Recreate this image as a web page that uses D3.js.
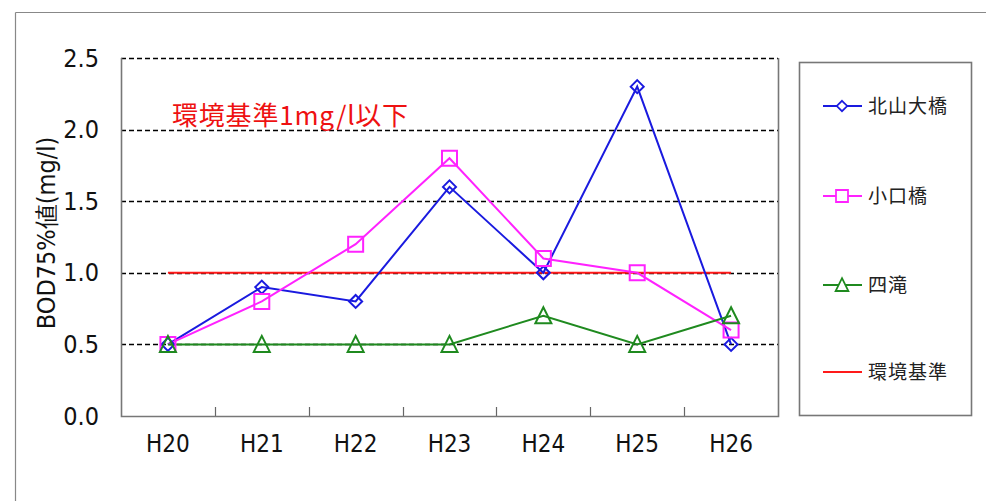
<!DOCTYPE html>
<html><head><meta charset="utf-8">
<script src="https://cdn.jsdelivr.net/npm/d3@7"></script>
<style>body{margin:0;background:#fff;overflow:hidden}</style>
</head><body><svg id="c" width="986" height="501"></svg>
<script>
const categories = ["H20","H21","H22","H23","H24","H25","H26"];
const kitayama = [0.5,0.9,0.8,1.6,1.0,2.3,0.5];
const koguchi  = [0.5,0.8,1.2,1.8,1.1,1.0,0.6];
const shitaki  = [0.5,0.5,0.5,0.5,0.7,0.5,0.7];
const standard = [1.0,1.0,1.0,1.0,1.0,1.0,1.0];
const yTicks = [0.0,0.5,1.0,1.5,2.0,2.5];
const seriesNames = ["北山大橋","小口橋","四滝","環境基準"];
const yTitle = "BOD75%値(mg/l)";
const annotation = "環境基準1mg/l以下";

const numFont = "'Liberation Sans Narrow','DejaVu Sans Condensed','Liberation Sans',Arial,sans-serif";
const cjkFont = "'Noto Sans CJK JP','Noto Sans',sans-serif";

const svg = d3.select("#c");
const L = 121, R = 778, T = 58, B = 416;
const x = d3.scaleBand().domain(categories).range([L, R]);
const y = d3.scaleLinear().domain([0, 2.5]).range([B, T]);

// outer frame
svg.append("line").attr("x1",15.5).attr("x2",986).attr("y1",12.5).attr("y2",12.5).attr("stroke","#888").attr("stroke-width",1.2);
svg.append("line").attr("x1",15.5).attr("x2",15.5).attr("y1",12.5).attr("y2",501).attr("stroke","#888").attr("stroke-width",1.2);

// gridlines
svg.append("g").selectAll("line").data(yTicks.filter(d=>d>0)).join("line")
  .attr("x1",L).attr("x2",R).attr("y1",d=>Math.round(y(d))+0.5).attr("y2",d=>Math.round(y(d))+0.5)
  .attr("stroke","#000").attr("stroke-width",1.3).attr("stroke-dasharray","5,3");

// y axis
const yAxis = d3.axisLeft(y).tickValues(yTicks).tickFormat(d3.format(".1f")).tickSize(0).tickPadding(22);
const gy = svg.append("g").attr("transform",`translate(${L},0)`).call(yAxis);
gy.select(".domain").remove();
gy.selectAll("text").attr("font-family",numFont).attr("font-size",25).attr("fill","#111");

// x axis
const xAxis = d3.axisBottom(x).tickSize(0).tickPadding(19);
const gx = svg.append("g").attr("transform",`translate(0,${B})`).call(xAxis);
gx.select(".domain").remove();
gx.selectAll("text").attr("font-family",numFont).attr("font-size",24).attr("fill","#111").attr("dy","0.71em");
// category boundary ticks
const bounds = categories.slice(1).map(c => x(c));
svg.append("g").selectAll("line").data(bounds).join("line")
  .attr("x1",d=>Math.round(d)+0.5).attr("x2",d=>Math.round(d)+0.5).attr("y1",B).attr("y2",B-9)
  .attr("stroke","#666").attr("stroke-width",1.2);

// plot frame (left, bottom, right)
svg.append("path").attr("d",`M${L+0.5},${T}V${B+0.5}H${R+0.5}V${T}`).attr("fill","none").attr("stroke","#777").attr("stroke-width",1.6);

// y title
svg.append("text").attr("transform",`translate(55,${233}) rotate(-90)`).attr("text-anchor","middle")
  .attr("font-family",numFont).attr("font-size",25).attr("fill","#111").text(yTitle);

// annotation
svg.append("text").attr("x",172).attr("y",125).attr("font-family",cjkFont).attr("font-size",26).attr("letter-spacing",0.8)
  .attr("fill","#ee1111").text(annotation);

const cx = i => x(categories[i]) + x.bandwidth()/2;
const line = d3.line().x((d,i)=>cx(i)).y(d=>y(d));

const series = [
  {name:seriesNames[3], vals:standard, color:"#ff1a1a", marker:null},
  {name:seriesNames[0], vals:kitayama, color:"#1a1adf", marker:"diamond"},
  {name:seriesNames[1], vals:koguchi, color:"#ff22ff", marker:"square"},
  {name:seriesNames[2], vals:shitaki, color:"#1f8a1f", marker:"triangle"},
];

function markerPath(type){
  if(type==="diamond") return "M0,-6.5L6.5,0L0,6.5L-6.5,0Z";
  if(type==="square") return "M-7.5,-7.5H7.5V7.5H-7.5Z";
  if(type==="triangle") return "M0,-8.5L8,7.5H-8Z";
  return null;
}

series.forEach(s=>{
  svg.append("path").datum(s.vals).attr("d",line).attr("fill","none").attr("stroke",s.color).attr("stroke-width",2);
});
series.forEach(s=>{
  if(!s.marker) return;
  svg.append("g").selectAll("path").data(s.vals).join("path")
    .attr("transform",(d,i)=>`translate(${cx(i)},${y(d)})`).attr("d",markerPath(s.marker))
    .attr("fill","none").attr("stroke",s.color).attr("stroke-width",2);
});

// legend
svg.append("rect").attr("x",799.5).attr("y",62.5).attr("width",172).attr("height",353).attr("fill","#fff").attr("stroke","#777").attr("stroke-width",1.6);
const legOrder = [series[1],series[2],series[3],series[0]];
const legY = [106,196,285,372];
legOrder.forEach((s,k)=>{
  const g = svg.append("g").attr("transform",`translate(0,${legY[k]})`);
  g.append("line").attr("x1",823).attr("x2",862).attr("stroke",s.color).attr("stroke-width",2);
  if(s.marker) g.append("path").attr("transform","translate(842,0) scale(0.8)").attr("d",markerPath(s.marker)).attr("fill","#fff").attr("stroke",s.color).attr("stroke-width",2.2);
  g.append("text").attr("x",868).attr("y",0).attr("dy","0.36em").attr("font-family",cjkFont).attr("font-size",19).attr("letter-spacing",1).attr("fill","#222").text(s.name);
});
</script></body></html>
